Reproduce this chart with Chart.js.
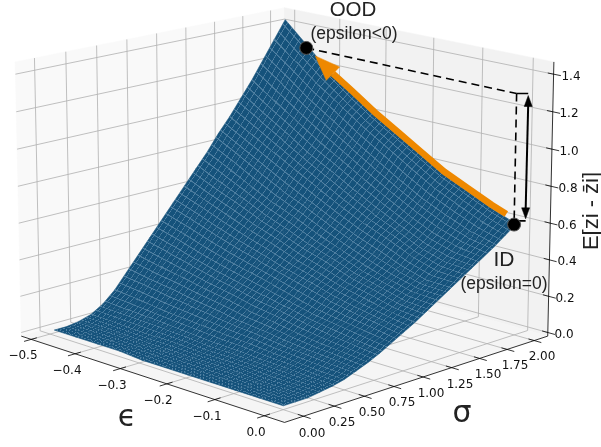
<!DOCTYPE html>
<html><head><meta charset="utf-8">
<style>html,body{margin:0;padding:0;background:#fff}#w{width:601px;height:447px}</style>
<script src="https://cdn.jsdelivr.net/npm/chart.js@4"></script></head>
<body><div id="w"><canvas id="c" width="601" height="447"></canvas></div>
<script>
const epsilonValues=[-0.49,-0.441,-0.392,-0.343,-0.294,-0.245,-0.196,-0.147,-0.098,-0.049,0];
const sigmaValues=[0,0.1,0.2,0.3,0.4,0.5,0.6,0.7,0.8,0.9,1,1.1,1.2,1.3,1.4,1.5,1.6,1.7,1.8,1.9,2];
const zRow_m50=[.01,.01,.02,.04,.08,.14,.22,.30,.38,.46,.54,.62,.70,.78,.87,.95,1.04,1.13,1.23,1.33,1.43];
const zRow_m45=[.01,.01,.02,.04,.07,.13,.20,.27,.35,.42,.50,.57,.64,.72,.80,.88,.96,1.04,1.14,1.23,1.31];
const zRow_m40=[.01,.01,.02,.03,.07,.11,.18,.25,.31,.38,.45,.52,.59,.65,.73,.81,.88,.96,1.04,1.13,1.19];
const zRow_m35=[.01,.01,.01,.03,.06,.10,.16,.22,.28,.34,.41,.47,.53,.59,.66,.74,.80,.87,.96,1.04,1.09];
const zRow_m30=[0,.01,.01,.03,.05,.09,.14,.20,.25,.31,.37,.43,.48,.54,.60,.67,.73,.80,.87,.95,1.00];
const zRow_m25=[0,0,.01,.02,.04,.08,.12,.17,.22,.28,.33,.38,.43,.48,.54,.60,.66,.72,.79,.87,.92];
const zRow_m20=[0,0,.01,.02,.04,.07,.11,.15,.20,.24,.30,.34,.39,.43,.48,.54,.59,.65,.71,.79,.84];
const zRow_m15=[0,0,.01,.02,.03,.06,.09,.13,.17,.21,.26,.30,.34,.38,.43,.49,.53,.58,.64,.71,.76];
const zRow_m10=[0,0,0,.01,.03,.05,.08,.11,.15,.19,.23,.27,.31,.34,.38,.43,.47,.52,.58,.65,.70];
const zRow_m05=[0,0,0,.01,.02,.04,.07,.10,.13,.17,.21,.24,.27,.31,.34,.39,.43,.48,.53,.59,.64];
const zRow_0=[0,0,0,.01,.02,.035,.06,.085,.115,.15,.185,.22,.26,.30,.34,.38,.42,.46,.50,.545,.59];
const zTable=[zRow_m50,zRow_m45,zRow_m40,zRow_m35,zRow_m30,zRow_m25,zRow_m20,zRow_m15,zRow_m10,zRow_m05,zRow_0];
const epsilonTicks=[-0.5,-0.4,-0.3,-0.2,-0.1,0];
const epsilonTickLabels=['\u22120.5','\u22120.4','\u22120.3','\u22120.2','\u22120.1','0.0'];
const sigmaTicks=[0,0.25,0.5,0.75,1,1.25,1.5,1.75,2];
const sigmaTickLabels=['0.00','0.25','0.50','0.75','1.00','1.25','1.50','1.75','2.00'];
const zTicks=[0,0.2,0.4,0.6,0.8,1,1.2,1.4];
const zTickLabels=['0.0','0.2','0.4','0.6','0.8','1.0','1.2','1.4'];
const oodValue=[-0.443,2,1.295];
const idValue=[0,1.98,0.59];
const xLim=[-0.523,0.04],yLim=[-0.152,2.127],zLim=[-0.02,1.465];
const view={elev:15,azim:-45,dist:10,box:[1.1905,1.1905,0.8929],sx:3163,sy:3179,cx:284.5,cy:200.6};
function project(e,s,z){
  const el=view.elev*Math.PI/180,az=view.azim*Math.PI/180;
  const a=((e-xLim[0])/(xLim[1]-xLim[0])-.5)*view.box[0];
  const b=((s-yLim[0])/(yLim[1]-yLim[0])-.5)*view.box[1];
  const c=((z-zLim[0])/(zLim[1]-zLim[0])-.5)*view.box[2];
  const rx=-Math.sin(az),ry=Math.cos(az);
  const dx=Math.cos(el)*Math.cos(az),dy=Math.cos(el)*Math.sin(az),dz=Math.sin(el);
  const ux=-Math.sin(el)*Math.cos(az),uy=-Math.sin(el)*Math.sin(az),uz=Math.cos(el);
  const u=a*rx+b*ry,v=a*ux+b*uy+c*uz,d=a*dx+b*dy+c*dz;
  const w=view.dist-d;
  return {x:view.cx+view.sx*u/w,y:view.cy-view.sy*v/w};
}
const ds=[];
function line(pts,color,width,dash){ds.push({data:pts,showLine:true,borderColor:color,borderWidth:width,borderDash:dash||[],pointRadius:0,fill:false,clip:false,borderJoinStyle:'round'});}
function poly(pts,fillC,lineC,width){ds.push({data:pts,showLine:true,backgroundColor:fillC,borderColor:lineC,borderWidth:width,pointRadius:0,fill:'shape',clip:false,tension:0});}
const [x0,x1]=xLim,[y0,y1]=yLim,[z0,z1]=zLim;
poly([project(x0,y0,z0),project(x0,y1,z0),project(x0,y1,z1),project(x0,y0,z1),project(x0,y0,z0)],'#f9f9f9','#f9f9f9',0.5);
poly([project(x0,y1,z0),project(x1,y1,z0),project(x1,y1,z1),project(x0,y1,z1),project(x0,y1,z0)],'#f2f2f2','#f2f2f2',0.5);
poly([project(x0,y0,z0),project(x1,y0,z0),project(x1,y1,z0),project(x0,y1,z0),project(x0,y0,z0)],'#f5f5f5','#f5f5f5',0.5);
const G='#b0b0b0';
sigmaTicks.forEach(s=>line([project(x1,s,z0),project(x0,s,z0),project(x0,s,z1)],G,0.8));
epsilonTicks.forEach(e=>line([project(e,y0,z0),project(e,y1,z0),project(e,y1,z1)],G,0.8));
zTicks.forEach(z=>line([project(x0,y0,z),project(x0,y1,z),project(x1,y1,z)],G,0.8));
const tile=document.createElement('canvas');tile.width=tile.height=16;
{const t=tile.getContext('2d');t.strokeStyle='rgba(118,158,188,0.62)';t.lineWidth=2;t.beginPath();t.moveTo(0,8);t.lineTo(16,8);t.moveTo(8,0);t.lineTo(8,16);t.stroke();}
const patCtx=document.getElementById('c').getContext('2d');
const meshPerEps=5,meshPerSigma=2.5;
function meshPattern(P,i,j){
  const A={x:((P[1].x-P[0].x)+(P[2].x-P[3].x))/2/meshPerEps,y:((P[1].y-P[0].y)+(P[2].y-P[3].y))/2/meshPerEps};
  const B={x:((P[3].x-P[0].x)+(P[2].x-P[1].x))/2/meshPerSigma,y:((P[3].y-P[0].y)+(P[2].y-P[1].y))/2/meshPerSigma};
  const C={x:(P[0].x+P[1].x+P[2].x+P[3].x)/4,y:(P[0].y+P[1].y+P[2].y+P[3].y)/4};
  const mc=(i+.5)*meshPerEps,nc=(j+.5)*meshPerSigma;
  const pat=patCtx.createPattern(tile,'repeat');
  pat.setTransform(new DOMMatrix([A.x/16,A.y/16,B.x/16,B.y/16,C.x-A.x*mc-B.x*nc,C.y-A.y*mc-B.y*nc]));
  return pat;
}
function facet(i,j){
  return [project(epsilonValues[i],sigmaValues[j],zTable[i][j]),project(epsilonValues[i+1],sigmaValues[j],zTable[i+1][j]),project(epsilonValues[i+1],sigmaValues[j+1],zTable[i+1][j+1]),project(epsilonValues[i],sigmaValues[j+1],zTable[i][j+1])];
}
for(let i=0;i<epsilonValues.length-1;i++)for(let j=sigmaValues.length-2;j>=0;j--){const P=facet(i,j);poly([...P,P[0]],'#15527b','#15527b',0.6);}
for(let i=0;i<epsilonValues.length-1;i++)for(let j=sigmaValues.length-2;j>=0;j--){const P=facet(i,j);poly([...P,P[0]],meshPattern(P,i,j),'rgba(0,0,0,0)',0);}
line([project(x0,y0,z0),project(x1,y0,z0)],'#000',0.8);
line([project(x1,y0,z0),project(x1,y1,z0)],'#000',0.8);
line([project(x1,y1,z0),project(x1,y1,z1)],'#000',0.8);
const ey=(y1-y0)*.025,ex=(x1-x0)*.025;
epsilonTicks.forEach(e=>line([project(e,y0-ey,z0),project(e,y0+ey*.8,z0)],'#000',0.8));
sigmaTicks.forEach(s=>line([project(x1+ex,s,z0),project(x1-ex*.8,s,z0)],'#000',0.8));
zTicks.forEach(z=>line([project(x1+ex,y1,z),project(x1-ex*.8,y1,z)],'#000',0.8));
const oodP=project(...oodValue),idP=project(...idValue);
const topP=project(idValue[0],idValue[1],oodValue[2]);
const offE=.012,offS=.05;
const sideTop=project(idValue[0]+offE,idValue[1]+offS,oodValue[2]);
const sideBot=project(idValue[0]+offE,idValue[1]+offS,idValue[2]+.02);
const botP=project(idValue[0],idValue[1],idValue[2]+.02);
const last=sigmaValues.length-1;
const tipP={x:oodP.x+9,y:oodP.y+8};
const dirX=Math.SQRT1_2,dirY=Math.SQRT1_2;
const headBase={x:tipP.x+dirX*25,y:tipP.y+dirY*25};
const shaftPts=[headBase];
epsilonValues.forEach((e,i)=>{if(e>=-0.36&&e<=-0.02)shaftPts.push(project(e,2,zTable[i][last]+.02));});
shaftPts.push(project(-0.02,2,.63));
line(shaftPts,'#ee8800',6.5);
poly([tipP,{x:headBase.x+dirY*9.5,y:headBase.y-dirX*9.5},{x:headBase.x-dirY*9.5,y:headBase.y+dirX*9.5},tipP],'#ee8800','#ee8800',0.5);
line([oodP,topP],'#000',1.6,[8,5]);
line([topP,botP],'#000',1.6,[8,5]);
line([topP,sideTop],'#000',1.6);
line([botP,sideBot],'#000',1.6);
const arrTop={x:sideTop.x,y:sideTop.y+2},arrBot={x:sideBot.x,y:sideBot.y-2};
line([{x:arrTop.x,y:arrTop.y+8},{x:arrBot.x,y:arrBot.y-8}],'#000',2);
poly([arrTop,{x:arrTop.x+4,y:arrTop.y+11},{x:arrTop.x-4,y:arrTop.y+11},arrTop],'#000','#000',0.5);
poly([arrBot,{x:arrBot.x+4,y:arrBot.y-11},{x:arrBot.x-4,y:arrBot.y-11},arrBot],'#000','#000',0.5);
ds.push({data:[oodP,idP],showLine:false,pointRadius:6.5,pointBackgroundColor:'#000',pointBorderColor:'#555',pointBorderWidth:1,clip:false});
const texts=[];
const TICK='12px "DejaVu Sans"';
const epsLabelXY=[[23,356],[67,371],[112,386],[158,401],[207,417],[256,433]];
const sigLabelXY=[[312,434],[342,423],[372,413],[402,403],[431,394],[460,385],[488,375],[515,366],[542,357]];
const zLabelXY=[[564,335],[565,299],[567,262],[567,226],[568,189],[569,152],[569,114],[571,77]];
epsilonTickLabels.forEach((t,i)=>texts.push([t,...epsLabelXY[i],TICK]));
sigmaTickLabels.forEach((t,i)=>texts.push([t,...sigLabelXY[i],TICK]));
zTickLabels.forEach((t,i)=>texts.push([t,...zLabelXY[i],TICK]));
texts.push(['OOD',353,10,'20.5px "Liberation Sans"','#222']);
texts.push(['(epsilon<0)',354,34,'17.5px "Liberation Sans"','#222']);
texts.push(['ID',504,260,'21px "Liberation Sans"','#222']);
texts.push(['(epsilon=0)',504,284,'17.5px "Liberation Sans"','#222']);
texts.push(['\u03f5',127,418,'30px "DejaVu Sans"','#222']);
texts.push(['\u03c3',462,414,'30px "DejaVu Sans"','#222']);
const textPlugin={id:'textLayer',afterDraw(ch){
  const c=ch.ctx,sx=ch.scales.x,sy=ch.scales.y;
  c.save();c.textAlign='center';c.textBaseline='middle';
  texts.forEach(t=>{c.font=t[3];c.fillStyle=t[4]||'#111';c.fillText(t[0],sx.getPixelForValue(t[1]),sy.getPixelForValue(t[2]));});
  c.translate(sx.getPixelForValue(592),sy.getPixelForValue(211));c.rotate(-Math.PI/2);
  c.font='22px "Liberation Sans"';c.fillStyle='#222';c.fillText('E[zi - z\u0304i]',0,0);
  c.restore();
}};
new Chart(document.getElementById('c'),{type:'scatter',data:{datasets:ds.reverse()},plugins:[textPlugin],options:{
  responsive:false,animation:false,events:[],
  layout:{padding:0},
  plugins:{legend:{display:false},tooltip:{enabled:false},filler:{propagate:false}},
  scales:{x:{type:'linear',min:7.5,max:593.5,display:false},y:{type:'linear',min:7.5,max:439.5,reverse:true,display:false}}
}});
</script></body></html>
